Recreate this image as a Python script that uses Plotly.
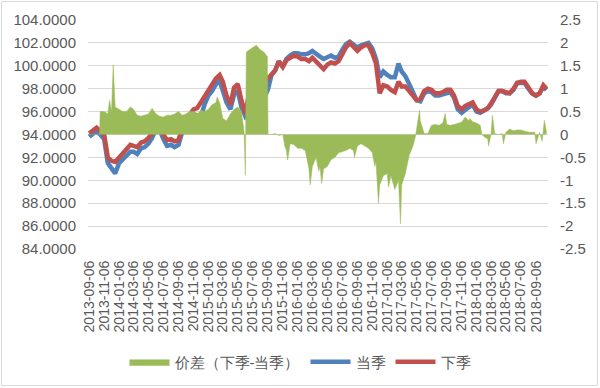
import plotly.graph_objects as go

line_dates = [
    "2013-09-06","2013-09-21","2013-10-06","2013-10-21","2013-11-06","2013-11-21","2013-12-06","2013-12-21",
    "2014-01-06","2014-01-21","2014-02-06","2014-02-21","2014-03-06","2014-03-21","2014-04-06","2014-04-21",
    "2014-05-06","2014-05-21","2014-06-06","2014-06-21","2014-07-06","2014-07-21","2014-08-06","2014-08-21",
    "2014-09-06","2014-09-21","2014-10-06","2014-10-21","2014-11-06","2014-11-21","2014-12-06","2014-12-21",
    "2015-01-06","2015-01-21","2015-02-06","2015-02-21","2015-03-06","2015-03-21","2015-04-06","2015-04-21",
    "2015-05-06","2015-05-21","2015-06-06","2015-06-21","2015-07-06","2015-07-21","2015-08-06","2015-08-21",
    "2015-09-06","2015-09-21","2015-10-06","2015-10-21","2015-11-06","2015-11-21","2015-12-06","2015-12-21",
    "2016-01-06","2016-01-21","2016-02-06","2016-02-21","2016-03-06","2016-03-21","2016-04-06","2016-04-21",
    "2016-05-06","2016-05-21","2016-06-06","2016-06-21","2016-07-06","2016-07-21","2016-08-06","2016-08-21",
    "2016-09-06","2016-09-21","2016-10-06","2016-10-21","2016-11-06","2016-11-21","2016-12-06","2016-12-21",
    "2017-01-06","2017-01-21","2017-02-06","2017-02-21","2017-03-06","2017-03-21","2017-04-06","2017-04-21",
    "2017-05-06","2017-05-21","2017-06-06","2017-06-21","2017-07-06","2017-07-21","2017-08-06","2017-08-21",
    "2017-09-06","2017-09-21","2017-10-06","2017-10-21","2017-11-06","2017-11-21","2017-12-06","2017-12-21",
    "2018-01-06","2018-01-21","2018-02-06","2018-02-21","2018-03-06","2018-03-21","2018-04-06","2018-04-21",
    "2018-05-06","2018-05-21","2018-06-06","2018-06-21","2018-07-06","2018-07-21","2018-08-06","2018-08-21",
    "2018-09-06","2018-09-21","2018-10-06","2018-10-19",
]

next_quarter = [  # 下季
    94.1, 94.3, 94.6, 94.3, 94.0, 92.0, 91.7, 91.6,
    92.0, 92.3, 92.8, 93.1, 93.0, 92.9, 93.3, 93.4, 93.7, 94.1, 94.9, 94.8, 94.0, 93.5, 93.6, 93.4,
    93.5, 94.6, 95.0, 95.7, 96.2, 96.3, 96.8, 97.3,
    97.9, 98.3, 98.9, 99.2, 98.6, 97.4, 96.6, 98.1, 98.4, 97.0, 95.8, 97.6, 98.1, 98.4, 98.4, 98.5,
    98.9, 99.2, 99.6, 100.4, 99.9, 100.5, 100.7, 100.9,
    100.8, 100.6, 100.6, 100.4, 100.7, 100.4, 100.1, 99.7, 100.1, 100.3, 100.2, 100.4, 101.0, 101.6, 102.0, 101.6,
    101.3, 101.6, 101.8, 101.8, 101.1, 100.2, 97.6, 98.3,
    98.2, 97.9, 97.7, 98.6, 98.2, 98.2, 97.8, 97.3, 97.0, 97.1, 97.8, 98.0, 97.9, 97.6, 97.6, 97.7,
    97.9, 97.9, 97.4, 96.5, 96.2, 96.5, 96.7, 96.8,
    96.2, 96.0, 96.1, 96.3, 96.7, 97.2, 97.8, 97.8, 97.7, 97.6, 98.0, 98.5, 98.6, 98.6, 98.1, 97.6,
    97.4, 97.6, 98.3, 98.0,
]

current_quarter = [  # 当季
    93.8, 94.0, 94.3, 94.0, 93.6, 91.5, 91.0, 90.6,
    91.5, 91.8, 92.2, 92.5, 92.5, 92.3, 92.8, 92.9, 93.2, 93.7, 94.5, 94.4, 93.6, 93.0, 93.1, 92.9,
    93.1, 94.2, 94.6, 95.3, 95.8, 95.6, 95.5, 96.6,
    97.4, 97.8, 98.4, 98.7, 97.9, 96.8, 96.2, 97.5, 97.8, 96.4, 95.6, 96.0, 96.2, 96.5, 96.8, 97.2,
    97.9, 99.2, 99.6, 100.4, 99.9, 100.6, 100.9, 101.1,
    101.1, 101.0, 101.0, 101.1, 101.3, 101.0, 100.8, 100.6, 100.8, 100.9, 100.7, 100.8, 101.4, 101.9, 102.1, 101.8,
    101.6, 101.8, 101.9, 102.0, 101.5, 100.6, 99.0, 99.5,
    99.2, 99.0, 99.0, 100.2, 99.5, 99.1, 98.4, 97.6, 97.0, 96.9, 97.6, 97.8, 97.7, 97.4, 97.4, 97.5,
    97.6, 97.7, 97.2, 96.2, 95.9, 96.2, 96.4, 96.6,
    96.0, 95.9, 96.1, 96.3, 96.6, 97.2, 97.8, 97.8, 97.6, 97.6, 97.9, 98.5, 98.5, 98.5, 98.0, 97.6,
    97.4, 97.6, 98.2, 97.9,
]

spread_dates = [
    "2013-09-06","2013-09-21","2013-10-06","2013-10-18","2013-10-21","2013-11-06","2013-11-21","2013-11-28",
    "2013-12-06","2013-12-13","2013-12-21","2014-01-06","2014-01-21","2014-02-06","2014-02-21","2014-03-06",
    "2014-03-21","2014-04-06","2014-04-21","2014-05-06","2014-05-21","2014-06-06","2014-06-21","2014-07-06",
    "2014-07-21","2014-08-06","2014-08-21","2014-09-06","2014-09-21","2014-10-06","2014-10-21","2014-11-06",
    "2014-11-21","2014-12-06","2014-12-21","2015-01-06","2015-01-21","2015-02-06","2015-02-11","2015-02-21",
    "2015-03-06","2015-03-21","2015-04-06","2015-04-21","2015-05-06","2015-05-21","2015-06-01","2015-06-06",
    "2015-06-10","2015-06-21","2015-07-06","2015-07-21","2015-08-06","2015-08-21","2015-09-04","2015-09-07",
    "2015-09-21","2015-10-06","2015-10-21","2015-11-06","2015-11-14","2015-11-21","2015-11-26","2015-12-06",
    "2015-12-21","2016-01-06","2016-01-21","2016-02-06","2016-02-14","2016-02-21","2016-02-26","2016-03-06",
    "2016-03-21","2016-03-28","2016-04-01","2016-04-06","2016-04-13","2016-04-21","2016-05-06","2016-05-21",
    "2016-06-06","2016-06-21","2016-07-06","2016-07-21","2016-08-06","2016-08-21","2016-08-25","2016-09-06",
    "2016-09-21","2016-10-06","2016-10-21","2016-11-06","2016-11-16","2016-11-21","2016-12-01","2016-12-06",
    "2016-12-21","2017-01-06","2017-01-11","2017-01-21","2017-02-06","2017-02-21","2017-03-01","2017-03-06",
    "2017-03-21","2017-04-06","2017-04-21","2017-05-01","2017-05-06","2017-05-13","2017-05-18","2017-05-21",
    "2017-05-28","2017-06-06","2017-06-21","2017-07-06","2017-07-21","2017-08-06","2017-08-21","2017-08-31",
    "2017-09-06","2017-09-21","2017-10-06","2017-10-21","2017-11-06","2017-11-21","2017-12-06","2017-12-10",
    "2017-12-21","2018-01-06","2018-01-21","2018-01-28","2018-02-06","2018-02-21","2018-02-24","2018-03-06",
    "2018-03-12","2018-03-21","2018-04-06","2018-04-21","2018-04-26","2018-05-06","2018-05-21","2018-06-06",
    "2018-06-21","2018-07-06","2018-07-21","2018-08-06","2018-08-21","2018-09-01","2018-09-06","2018-09-21",
    "2018-10-01","2018-10-10","2018-10-19",
]

spread = [  # 价差（下季-当季）
    0.0, 0.0, 0.0, 0.0, 0.5, 0.5, 0.45, 0.75,
    0.5, 1.52, 0.6, 0.55, 0.5, 0.5, 0.6, 0.55,
    0.42, 0.4, 0.42, 0.45, 0.57, 0.45, 0.4, 0.38,
    0.42, 0.42, 0.45, 0.5, 0.42, 0.45, 0.5, 0.5,
    0.45, 0.53, 0.5, 0.55, 0.65, 0.7, 0.82, 0.7,
    0.35, 0.3, 0.45, 0.55, 0.6, 0.5, 0.05, -0.89,
    1.8, 1.85, 1.9, 1.95, 1.85, 1.8, 1.7, 0.0,
    0.0, 0.02, -0.02, 0.0, -0.25, -0.35, -0.56, -0.2,
    -0.22, -0.3, -0.3, -0.35, -0.6, -0.75, -1.1, -0.7,
    -0.5, -0.7, -0.8, -0.7, -1.07, -0.75, -0.7, -0.55,
    -0.5, -0.4, -0.38, -0.35, -0.3, -0.35, -0.5, -0.25,
    -0.2, -0.25, -0.3, -0.4, -0.7, -0.6, -1.5, -1.1,
    -0.9, -0.85, -1.15, -0.9, -1.2, -1.0, -1.95, -1.1,
    -0.85, -0.45, -0.25, -0.05, 0.1, 0.35, 0.53, 0.3,
    0.15, 0.02, 0.02, 0.2, 0.22, 0.2, 0.25, 0.46,
    0.22, 0.2, 0.22, 0.25, 0.27, 0.38, 0.3, 0.35,
    0.28, 0.25, 0.2, 0.0, -0.05, -0.1, -0.25, 0.0,
    0.42, 0.02, 0.0, 0.02, -0.2, 0.05, 0.12, 0.08,
    0.1, 0.1, 0.08, 0.05, 0.05, 0.05, -0.2, 0.05,
    -0.15, 0.31, 0.05,
]

x_ticks = ["2013-09-06","2013-11-06","2014-01-06","2014-03-06","2014-05-06","2014-07-06","2014-09-06","2014-11-06",
           "2015-01-06","2015-03-06","2015-05-06","2015-07-06","2015-09-06","2015-11-06","2016-01-06","2016-03-06",
           "2016-05-06","2016-07-06","2016-09-06","2016-11-06","2017-01-06","2017-03-06","2017-05-06","2017-07-06",
           "2017-09-06","2017-11-06","2018-01-06","2018-03-06","2018-05-06","2018-07-06","2018-09-06"]
left_ticks = [84, 86, 88, 90, 92, 94, 96, 98, 100, 102, 104]
right_ticks = [-2.5, -2, -1.5, -1, -0.5, 0, 0.5, 1, 1.5, 2, 2.5]

GREEN = "#9BBB59"
BLUE = "#4F81BD"
RED = "#C0504D"
TXT = "#595959"
FONT = "Liberation Sans"

fig = go.Figure()
fig.add_trace(go.Scatter(x=spread_dates, y=spread, name="价差（下季-当季）", yaxis="y2",
                         mode="lines", line=dict(color=GREEN, width=0.5), fill="tozeroy",
                         fillcolor=GREEN))
fig.add_trace(go.Scatter(x=line_dates, y=current_quarter, name="当季", mode="lines",
                         line=dict(color=BLUE, width=4.5)))
fig.add_trace(go.Scatter(x=line_dates, y=next_quarter, name="下季", mode="lines",
                         line=dict(color=RED, width=4.5)))

fig.update_layout(
    width=600, height=388,
    margin=dict(l=88, r=52, t=20, b=139, autoexpand=False),
    paper_bgcolor="white", plot_bgcolor="white",
    font=dict(family=FONT, size=15, color=TXT),
    showlegend=True,
    legend=dict(orientation="h", xref="container", yref="container", x=0.5, xanchor="center",
                y=0.067, yanchor="middle", font=dict(size=15, color=TXT),
                itemwidth=40, tracegroupgap=0, bgcolor="rgba(0,0,0,0)"),
    xaxis=dict(type="date", range=["2013-09-01", "2018-10-25"], tickvals=x_ticks,
               ticktext=x_ticks, tickangle=-90, showgrid=False, zeroline=False,
               showline=False, ticks="", ticklabelstandoff=8, automargin=False,
               tickfont=dict(size=14, color=TXT, family=FONT)),
    yaxis=dict(range=[84, 104], tickvals=left_ticks,
               ticktext=[f"{v:.4f}" for v in left_ticks], showgrid=True, gridcolor="#D9D9D9",
               gridwidth=1, zeroline=False, showline=False, ticks="", ticklabelstandoff=11,
               automargin=False, tickfont=dict(size=15, color=TXT, family=FONT)),
    yaxis2=dict(range=[-2.5, 2.5], tickvals=right_ticks,
                ticktext=[f"{v:g}" for v in right_ticks], overlaying="y", side="right",
                showgrid=False, zeroline=False, showline=False, ticks="", ticklabelstandoff=11,
                automargin=False, tickfont=dict(size=15, color=TXT, family=FONT)),
    shapes=[dict(type="rect", xref="paper", yref="paper",
                 x0=(1.5 - 88) / 460, x1=(597.5 - 88) / 460,
                 y0=(249 - 385.5) / 229, y1=(249 - 1.5) / 229,
                 line=dict(color="#D9D9D9", width=1), fillcolor="rgba(0,0,0,0)", layer="below")],
)

fig.write_html("out.html", config={"displayModeBar": False},
               post_script="document.body.style.margin='0';document.body.style.overflow='hidden';")
